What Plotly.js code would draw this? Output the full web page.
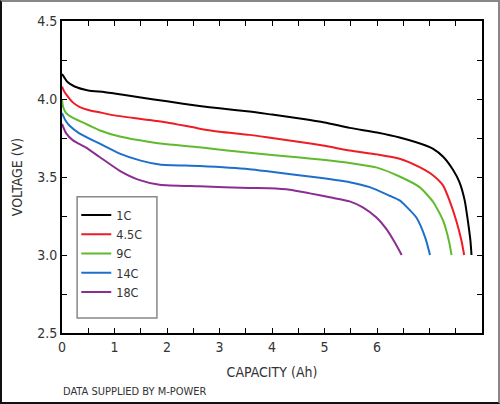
<!DOCTYPE html>
<html>
<head>
<meta charset="utf-8">
<script src="https://cdn.plot.ly/plotly-3.0.1.min.js"></script>
<style>
  html, body { margin: 0; padding: 0; background: #fff; }
  #wrap { position: relative; width: 500px; height: 404px; }
  #chart { width: 500px; height: 404px; }
  #frame { position: absolute; left: 0; top: 0; width: 500px; height: 404px; box-sizing: border-box;
           border-top: 2px solid #888; border-right: 2px solid #888; border-left: 2px solid #111; border-bottom: 2px solid #111;
           pointer-events: none; }
</style>
</head>
<body>
<div id="wrap"><div id="chart"></div><div id="frame"></div></div>
<script>
const seriesNames = ["1C", "4.5C", "9C", "14C", "18C"];
const seriesColors = ["#000000", "#ee1c24", "#5fba2e", "#1e6fcc", "#8b2d91"];

const x1C  = [0, 0.04, 0.1, 0.24, 0.5, 0.8, 1.0, 1.5, 2.0, 2.62, 3.0, 3.57, 4.0, 4.53, 5.0, 5.48, 6.0, 6.43, 6.94, 7.07, 7.26, 7.45, 7.57, 7.67, 7.73, 7.78, 7.80];
const y1C  = [4.16, 4.14, 4.11, 4.08, 4.055, 4.045, 4.035, 4.01, 3.985, 3.955, 3.94, 3.92, 3.90, 3.875, 3.85, 3.815, 3.785, 3.753, 3.70, 3.68, 3.63, 3.545, 3.467, 3.35, 3.22, 3.09, 3.0];

const x45C = [0, 0.04, 0.08, 0.2, 0.33, 0.5, 0.71, 1.0, 1.67, 2.0, 2.62, 3.0, 3.57, 4.0, 4.53, 5.0, 5.48, 6.0, 6.43, 6.81, 7.07, 7.26, 7.38, 7.51, 7.61, 7.66];
const y45C = [4.08, 4.05, 4.03, 3.98, 3.95, 3.93, 3.915, 3.895, 3.865, 3.85, 3.81, 3.79, 3.77, 3.75, 3.725, 3.70, 3.67, 3.645, 3.617, 3.563, 3.51, 3.445, 3.35, 3.22, 3.09, 3.0];

const x9C  = [0, 0.02, 0.08, 0.2, 0.33, 0.52, 0.71, 1.1, 1.67, 2.0, 2.62, 3.57, 4.53, 5.48, 6.0, 6.43, 6.81, 7.07, 7.26, 7.37, 7.42];
const y9C  = [4.0, 3.95, 3.91, 3.88, 3.86, 3.83, 3.80, 3.76, 3.725, 3.71, 3.69, 3.655, 3.625, 3.59, 3.56, 3.503, 3.435, 3.34, 3.22, 3.09, 3.0];

const x14C = [0, 0.07, 0.14, 0.33, 0.71, 1.1, 1.5, 1.86, 2.62, 3.57, 3.95, 4.91, 5.48, 5.86, 6.24, 6.43, 6.56, 6.75, 6.92, 7.01];
const y14C = [3.91, 3.86, 3.83, 3.78, 3.715, 3.65, 3.605, 3.58, 3.57, 3.55, 3.535, 3.495, 3.467, 3.435, 3.38, 3.35, 3.31, 3.24, 3.11, 3.0];

const x18C = [0, 0.08, 0.21, 0.45, 0.71, 1.1, 1.48, 1.86, 2.62, 3.57, 3.95, 4.34, 4.72, 5.10, 5.48, 5.73, 5.99, 6.18, 6.34, 6.47];
const y18C = [3.84, 3.78, 3.735, 3.69, 3.63, 3.54, 3.48, 3.45, 3.44, 3.43, 3.428, 3.419, 3.395, 3.37, 3.344, 3.305, 3.24, 3.166, 3.08, 3.0];

const xs = [x1C, x45C, x9C, x14C, x18C];
const ys = [y1C, y45C, y9C, y14C, y18C];

const xTickVals = [0, 1, 2, 3, 4, 5, 6];
const yTickVals = [2.5, 3.0, 3.5, 4.0, 4.5];
const yTickText = ["2.5", "3.0", "3.5", "4.0", "4.5"];

const FONT = "'Liberation Sans Narrow', 'Arial Narrow', 'DejaVu Sans Condensed', sans-serif";

const traces = seriesNames.map((n, i) => ({
  type: "scatter", mode: "lines", name: n,
  x: xs[i], y: ys[i],
  line: { color: seriesColors[i], width: 2, shape: "spline", smoothing: 0.6 }
}));

const layout = {
  width: 500, height: 404,
  margin: { l: 62, r: 18, t: 21, b: 71 },
  paper_bgcolor: "#ffffff", plot_bgcolor: "#ffffff",
  font: { family: FONT, size: 13, color: "#333" },
  showlegend: true,
  legend: {
    x: 0.034, y: 0.425, xanchor: "left", yanchor: "top",
    bgcolor: "rgba(0,0,0,0)", borderwidth: 0,
    font: { family: FONT, size: 12.5, color: "#333" },
    itemwidth: 30,
    tracegroupgap: 0
  },
  xaxis: {
    range: [0, 8], showgrid: false, zeroline: false,
    showline: true, linecolor: "#000", linewidth: 2, mirror: "ticks",
    ticks: "inside", ticklen: 5, tickwidth: 1, tickcolor: "#000",
    tickvals: xTickVals, ticktext: xTickVals.map(String),
    tickfont: { family: FONT, size: 14, color: "#333" },
    minor: { dtick: 0.5, tick0: 0, ticks: "inside", ticklen: 5, tickwidth: 1, tickcolor: "#000" },
    title: { text: "CAPACITY (Ah)", font: { family: FONT, size: 14, color: "#333" }, standoff: 13 }
  },
  yaxis: {
    range: [2.5, 4.5], showgrid: false, zeroline: false,
    showline: true, linecolor: "#000", linewidth: 2, mirror: "ticks",
    ticks: "inside", ticklen: 5, tickwidth: 1, tickcolor: "#000",
    tickvals: yTickVals, ticktext: yTickText,
    tickfont: { family: FONT, size: 14, color: "#333" },
    minor: { dtick: 0.25, tick0: 2.5, ticks: "inside", ticklen: 5, tickwidth: 1, tickcolor: "#000" },
    title: { text: "VOLTAGE (V)", font: { family: FONT, size: 14, color: "#333" }, standoff: 11 }
  },
  shapes: [
    { type: "rect", xref: "paper", yref: "paper", x0: 0.036, x1: 0.226, y0: 0.048, y1: 0.437,
      line: { color: "#888", width: 1.5 }, fillcolor: "rgba(0,0,0,0)", layer: "below" }
  ],
  annotations: [
    { text: "DATA SUPPLIED BY M-POWER", xref: "paper", yref: "paper", x: -0.002, y: -0.187,
      xanchor: "left", yanchor: "middle", showarrow: false,
      font: { family: FONT, size: 11, color: "#333" } }
  ]
};

Plotly.newPlot("chart", traces, layout, { displayModeBar: false, staticPlot: true });
</script>
</body>
</html>
